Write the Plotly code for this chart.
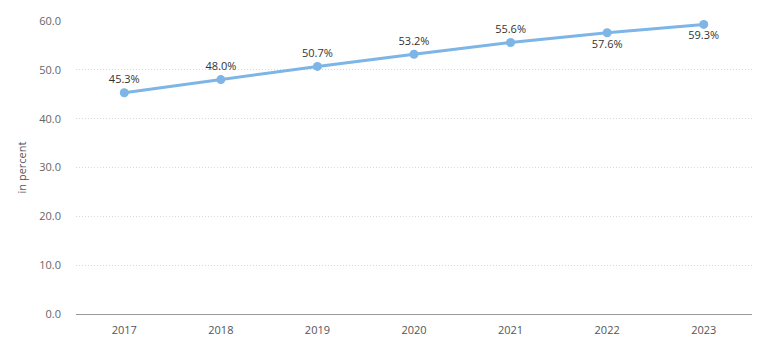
import plotly.graph_objects as go

years = ["2017", "2018", "2019", "2020", "2021", "2022", "2023"]
values = [45.3, 48.0, 50.7, 53.2, 55.6, 57.6, 59.3]
labels = ["45.3%", "48.0%", "50.7%", "53.2%", "55.6%", "57.6%", "59.3%"]
positions = ["top center"] * 5 + ["bottom center"] * 2

fig = go.Figure()
fig.add_trace(go.Scatter(
    x=years, y=values, mode="lines+markers+text",
    text=labels, textposition=positions,
    textfont=dict(family="Open Sans", size=11, color="#333333"),
    line=dict(color="#7cb5e6", width=3),
    marker=dict(color="#7cb5e6", size=9),
    cliponaxis=False, showlegend=False,
))
fig.update_layout(
    width=765, height=341,
    margin=dict(l=76, r=13, t=21, b=27),
    paper_bgcolor="white", plot_bgcolor="white",
    font=dict(family="Open Sans", size=11, color="#666666"),
)
fig.update_xaxes(
    type="category", range=[-0.5, 6.5], showgrid=False, showline=True,
    linecolor="#999999", linewidth=1, automargin=False,
    ticks="", tickfont=dict(size=11, color="#555555"), ticklabelstandoff=6,
)
fig.update_yaxes(
    range=[0, 60], dtick=10, tickformat=".1f", showgrid=True,
    gridcolor="#d8d8d8", griddash="1px,2px", gridwidth=1, zeroline=False,
    showline=False, ticks="", ticklabelstandoff=14, automargin=False,
    title=dict(text="in percent", font=dict(size=11, color="#555555"), standoff=10),
)
fig.write_html("out.html")
